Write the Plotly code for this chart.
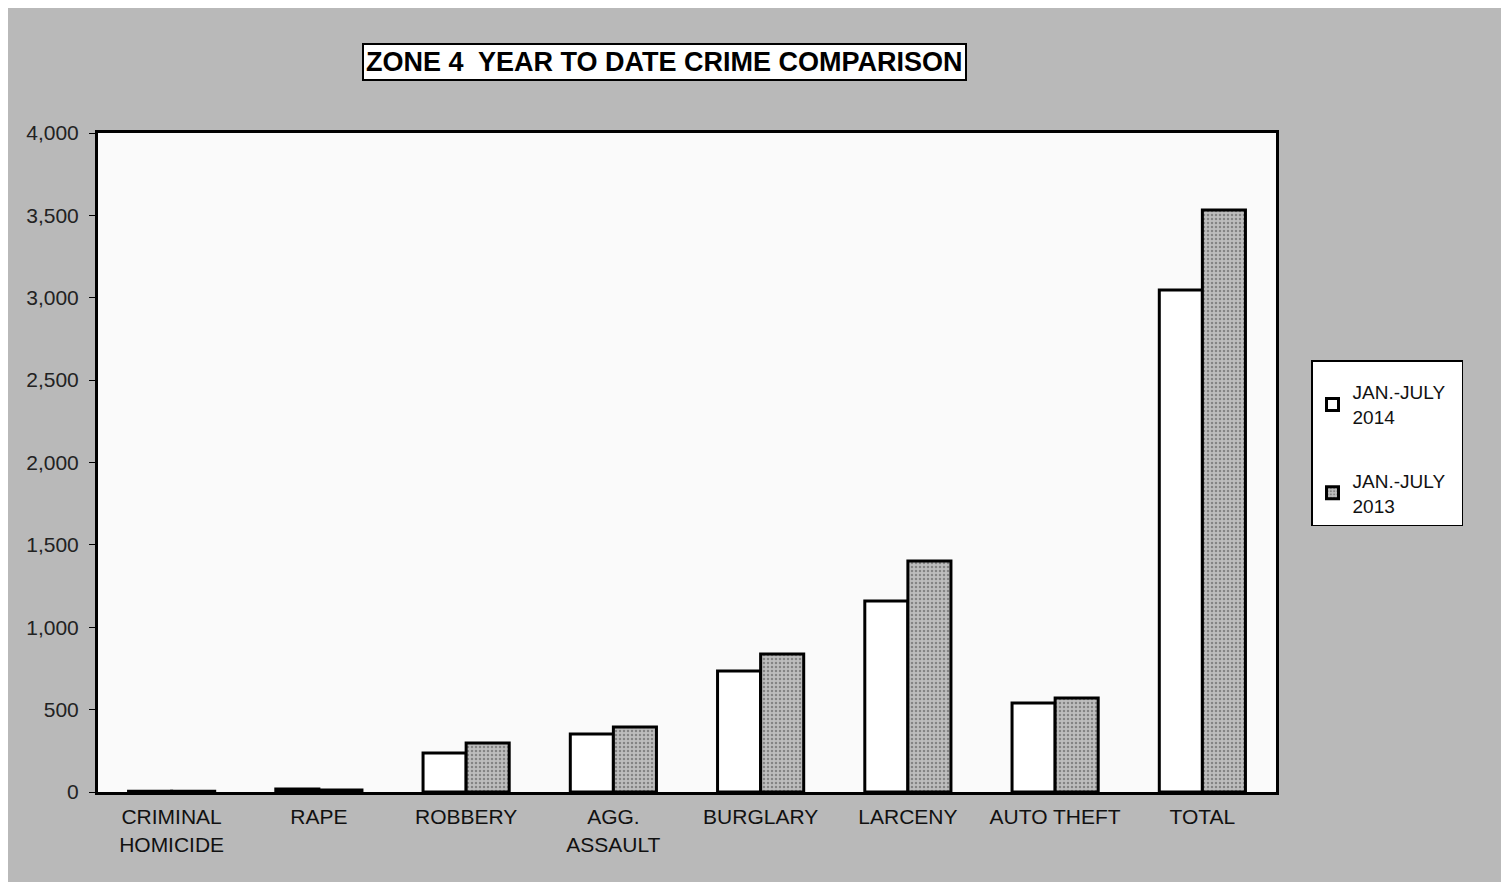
import plotly.graph_objects as go

categories = ["CRIMINAL<br>HOMICIDE", "RAPE", "ROBBERY", "AGG.<br>ASSAULT",
              "BURGLARY", "LARCENY", "AUTO THEFT", "TOTAL"]
series_2014 = [5, 18, 237, 352, 734, 1159, 540, 3047]
series_2013 = [4, 12, 297, 395, 838, 1402, 570, 3533]
series_names = ["JAN.-JULY&nbsp;&nbsp;<br>2014", "JAN.-JULY&nbsp;&nbsp;<br>2013"]
y_ticks = [0, 500, 1000, 1500, 2000, 2500, 3000, 3500, 4000]
title_text = "ZONE 4  YEAR TO DATE CRIME COMPARISON"

FONT = "Liberation Sans, Arial, sans-serif"

fig = go.Figure()
fig.add_trace(go.Bar(
    x=categories, y=series_2014, name=series_names[0], legendgroup="a",
    marker=dict(color="white", line=dict(color="black", width=3)),
))
fig.add_trace(go.Bar(
    x=categories, y=series_2013, name=series_names[1], legendgroup="b",
    marker=dict(color="#a8a8a8", line=dict(color="black", width=3),
                pattern=dict(shape=".", fgcolor="#4a4a4a", bgcolor="#bdbdbd", size=4, solidity=0.3)),
))

L, R, T, B = 90, 241, 125, 98
W, H = 1509, 882
plot_w = W - L - R
plot_h = H - T - B

fig.update_layout(
    width=W, height=H,
    paper_bgcolor="#b9b9b9",
    plot_bgcolor="#fafafa",
    barmode="group",
    bargap=0.415,
    bargroupgap=0,
    margin=dict(l=L, r=R, t=T, b=B),
    font=dict(family=FONT, color="#111111"),
    showlegend=True,
    legend=dict(
        x=(1311 - 98) / plot_w, y=(792 - 360) / plot_h, xanchor="left", yanchor="top",
        xref="paper", yref="paper",
        bgcolor="white", bordercolor="black", borderwidth=1.5,
        font=dict(size=19, color="#111111", family=FONT),
        title=dict(text=" ", font=dict(size=9)),
        tracegroupgap=36, itemwidth=30,
    ),
    annotations=[dict(
        text="<b>" + title_text + "</b>",
        x=(664 - 98) / plot_w, y=1 + (133 - 62) / plot_h,
        xref="paper", yref="paper", xanchor="center", yanchor="middle",
        showarrow=False,
        font=dict(size=27, color="black", family=FONT),
        bgcolor="white", bordercolor="black", borderwidth=2, borderpad=2,
    )],
)

fig.update_xaxes(
    showline=True, linecolor="black", linewidth=3, mirror=True,
    ticks="", tickfont=dict(size=21, color="#111111", family=FONT),
    ticklabelstandoff=4,
    showgrid=False,
)
fig.update_yaxes(
    range=[0, 4000], tickvals=y_ticks,
    ticktext=[f"{v:,}" for v in y_ticks],
    showline=True, linecolor="black", linewidth=3, mirror=True,
    ticks="outside", ticklen=6, tickcolor="black",
    tickfont=dict(size=21, color="#222222", family=FONT),
    ticklabelstandoff=6,
    showgrid=False, zeroline=False,
)

fig.write_html("out.html")
